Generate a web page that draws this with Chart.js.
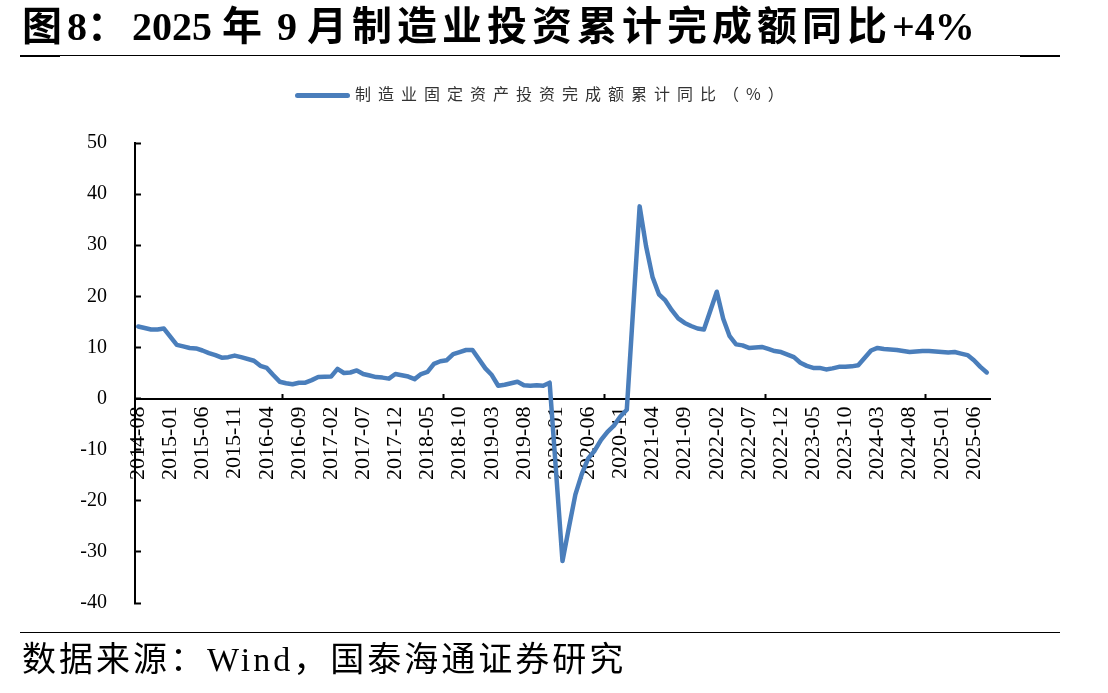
<!DOCTYPE html>
<html>
<head>
<meta charset="utf-8">
<script src="https://cdn.jsdelivr.net/npm/chart.js@4.4.1/dist/chart.umd.min.js"></script>
<style>
  body { margin: 0; background: #fff; }
  #wrap { position: relative; width: 1108px; height: 693px; overflow: hidden; background: #fff; }
  #chart { position: absolute; left: 0; top: 0; }
  .title { position: absolute; left: 22px; top: 6px; font: bold 40px "Liberation Serif", "Noto Sans CJK SC"; letter-spacing: 5px; line-height: 42px; white-space: nowrap; color: #000; }
  .title .a { letter-spacing: 0; }
  .rule { position: absolute; left: 20px; width: 1040px; height: 0; border-top: 1.5px solid #000; }
  .rule-end { position: absolute; height: 0; border-top: 2px solid #000; width: 40px; }
  .legend { position: absolute; left: 295px; top: 81px; white-space: nowrap; font: 16px "Noto Sans CJK SC"; letter-spacing: 7px; color: #333; line-height: 24px; }
  .legend .swatch { display: inline-block; width: 55px; height: 5px; border-radius: 3px; background: #4A7EBB; vertical-align: middle; margin-right: 5px; }
  .source { position: absolute; left: 22px; top: 641px; font: 34px "Liberation Serif", "Noto Sans CJK SC"; letter-spacing: 3px; line-height: 38px; white-space: nowrap; color: #000; }
</style>
</head>
<body>
<div id="wrap">
  <canvas id="chart" width="1108" height="693"></canvas>
  <div class="title">图<span class="a">8</span>：<span class="a">2025 </span>年<span class="a"> 9 </span>月制造业投资累计完成额同比<span class="a">+4%</span></div>
  <div class="rule" style="top:55px"></div>
  <div class="rule-end" style="left:20px;top:55px"></div>
  <div class="rule-end" style="left:1020px;top:55px"></div>
  <div class="legend"><span class="swatch"></span>制造业固定资产投资完成额累计同比（%）</div>
  <div class="rule" style="top:632px"></div>
  <div class="source">数据来源：Wind，国泰海通证券研究</div>
</div>
<script>
// 月度类别：2014-08 至 2025-08
const startYear = 2014, startMonth = 8, monthCount = 133;
const labels = [];
for (let i = 0; i < monthCount; i++) {
    const m = (startMonth - 1 + i) % 12 + 1;
    const y = startYear + Math.floor((startMonth - 1 + i) / 12);
    labels.push(y + '-' + String(m).padStart(2, '0'));
}

// 制造业固定资产投资完成额累计同比（%），1月无数据
const v2014 = [14.1, 13.8, 13.5, 13.5, 13.7];                                   // 8-12月
const v2015 = [null, 10.5, 10.2, 9.9, 9.8, 9.4, 8.9, 8.5, 8.0, 8.1, 8.4, 8.1];
const v2016 = [null, 7.4, 6.4, 6.0, 4.6, 3.3, 3.0, 2.8, 3.1, 3.1, 3.6, 4.2];
const v2017 = [null, 4.3, 5.8, 5.0, 5.1, 5.5, 4.8, 4.5, 4.2, 4.1, 3.9, 4.8];
const v2018 = [null, 4.3, 3.8, 4.8, 5.2, 6.8, 7.3, 7.5, 8.7, 9.1, 9.5, 9.5];
const v2019 = [null, 5.9, 4.6, 2.5, 2.7, 3.0, 3.3, 2.6, 2.5, 2.6, 2.5, 3.1];
const v2020 = [null, -31.8, -25.2, -18.8, -14.8, -11.7, -10.2, -8.1, -6.5, -5.3, -3.5, -2.2];
const v2021 = [null, 37.6, 29.8, 23.8, 20.4, 19.2, 17.3, 15.7, 14.8, 14.2, 13.7, 13.5];
const v2022 = [null, 20.9, 15.6, 12.2, 10.6, 10.4, 9.9, 10.0, 10.1, 9.7, 9.3, 9.1];
const v2023 = [null, 8.1, 7.0, 6.4, 6.0, 6.0, 5.7, 5.9, 6.2, 6.2, 6.3, 6.5];
const v2024 = [null, 9.4, 9.9, 9.7, 9.6, 9.5, 9.3, 9.1, 9.2, 9.3, 9.3, 9.2];
const v2025 = [null, 9.0, 9.1, 8.8, 8.5, 7.5, 6.2, 5.1];                        // 1-8月

const values = [].concat(v2014, v2015, v2016, v2017, v2018, v2019, v2020,
                         v2021, v2022, v2023, v2024, v2025);

const serif = '"Liberation Serif", "Times New Roman", serif';

new Chart(document.getElementById('chart').getContext('2d'), {
    type: 'line',
    data: {
        labels: labels,
        datasets: [{
            label: '制造业固定资产投资完成额累计同比（%）',
            data: values,
            borderColor: '#4A7EBB',
            borderWidth: 4.5,
            borderJoinStyle: 'round',
            borderCapStyle: 'round',
            pointRadius: 0,
            tension: 0,
            spanGaps: true
        }]
    },
    options: {
        responsive: false,
        animation: false,
        layout: { padding: { top: 143, right: 118, bottom: 90, left: 0 } },
        plugins: {
            legend: { display: false },
            tooltip: { enabled: false }
        },
        scales: {
            y: {
                min: -40,
                max: 50,
                ticks: { stepSize: 10, color: '#000', padding: 34, font: { family: serif, size: 20 } },
                grid: { drawOnChartArea: false, tickLength: -6, tickWidth: 2, color: '#000' },
                border: { color: '#000', width: 2 },
                afterFit: function (scale) { scale.width = 135; }
            },
            x: {
                position: { y: 0 },
                offset: true,
                ticks: {
                    autoSkip: false,
                    minRotation: 90,
                    maxRotation: 90,
                    padding: 14,
                    color: '#000',
                    font: { family: serif, size: 22 },
                    callback: function (v, i) { return i % 5 === 0 ? labels[i] : null; }
                },
                grid: {
                    offset: true,
                    drawOnChartArea: false,
                    tickLength: -6,
                    tickWidth: 2,
                    color: function (c) { return c.index % 5 === 0 ? '#000' : 'rgba(0,0,0,0)'; }
                },
                border: { color: '#000', width: 2 }
            }
        }
    }
});
</script>
</body>
</html>
